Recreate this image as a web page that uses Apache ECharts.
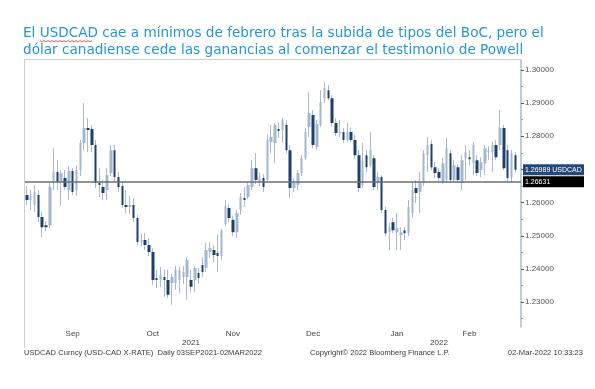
<!DOCTYPE html>
<html><head><meta charset="utf-8">
<script src="https://cdn.jsdelivr.net/npm/echarts@6/dist/echarts.min.js"></script>
<style>html,body{margin:0;padding:0;background:#fff}#c{width:595px;height:389px}</style>
</head><body><div id="c"></div>
<script>
// ---------- DATA ----------
const titleLines = [
  'El USDCAD cae a mínimos de febrero tras la subida de tipos del BoC, pero el',
  'dólar canadiense cede las ganancias al comenzar el testimonio de Powell'
];
const footerLeft = 'USDCAD Curncy (USD-CAD X-RATE)  Daily 03SEP2021-02MAR2022';
const footerMid = 'Copyright\u00A9 2022 Bloomberg Finance L.P.';
const footerRight = '02-Mar-2022 10:33:23';

const dates = [
 '2021-09-03','2021-09-06','2021-09-07','2021-09-08','2021-09-09','2021-09-10','2021-09-13','2021-09-14','2021-09-15','2021-09-16','2021-09-17','2021-09-20','2021-09-21','2021-09-22','2021-09-23','2021-09-24','2021-09-27','2021-09-28','2021-09-29','2021-09-30',
 '2021-10-01','2021-10-04','2021-10-05','2021-10-06','2021-10-07','2021-10-08','2021-10-11','2021-10-12','2021-10-13','2021-10-14','2021-10-15','2021-10-18','2021-10-19','2021-10-20','2021-10-21','2021-10-22','2021-10-25','2021-10-26','2021-10-27','2021-10-28','2021-10-29',
 '2021-11-01','2021-11-02','2021-11-03','2021-11-04','2021-11-05','2021-11-08','2021-11-09','2021-11-10','2021-11-11','2021-11-12','2021-11-15','2021-11-16','2021-11-17','2021-11-18','2021-11-19','2021-11-22','2021-11-23','2021-11-24','2021-11-25','2021-11-26','2021-11-29','2021-11-30',
 '2021-12-01','2021-12-02','2021-12-03','2021-12-06','2021-12-07','2021-12-08','2021-12-09','2021-12-10','2021-12-13','2021-12-14','2021-12-15','2021-12-16','2021-12-17','2021-12-20','2021-12-21','2021-12-22','2021-12-23','2021-12-24','2021-12-27','2021-12-28','2021-12-29','2021-12-30','2021-12-31',
 '2022-01-03','2022-01-04','2022-01-05','2022-01-06','2022-01-07','2022-01-10','2022-01-11','2022-01-12','2022-01-13','2022-01-14','2022-01-17','2022-01-18','2022-01-19','2022-01-20','2022-01-21','2022-01-24','2022-01-25','2022-01-26','2022-01-27','2022-01-28','2022-01-31',
 '2022-02-01','2022-02-02','2022-02-03','2022-02-04','2022-02-07','2022-02-08','2022-02-09','2022-02-10','2022-02-11','2022-02-14','2022-02-15','2022-02-16','2022-02-17','2022-02-18','2022-02-21','2022-02-22','2022-02-23','2022-02-24','2022-02-25','2022-02-28',
 '2022-03-01','2022-03-02'
];

const opens = [
 1.2623,1.2608,1.2593,1.2623,1.2557,1.2532,1.2532,1.2662,1.2692,1.2662,
 1.2674,1.2638,1.2695,1.2638,1.2698,1.2780,1.2825,1.2822,1.2774,1.2659,
 1.2647,1.2638,1.2689,1.2758,1.2677,1.2650,1.2593,1.2587,1.2593,1.2554,
 1.2481,1.2487,1.2472,1.2451,1.2373,1.2367,1.2376,1.2367,1.2358,1.2358,
 1.2367,1.2376,1.2376,1.2367,1.2367,1.2388,1.2412,1.2403,1.2451,1.2457,
 1.2448,1.2439,1.2535,1.2584,1.2548,1.2511,1.2578,1.2614,1.2617,1.2647,
 1.2704,1.2662,1.2674,1.2668,1.2783,1.2780,1.2822,1.2819,1.2834,1.2758,
 1.2644,1.2653,1.2689,1.2734,1.2828,1.2864,1.2768,1.2834,1.2915,1.2939,
 1.2915,1.2840,1.2810,1.2813,1.2789,1.2813,1.2789,1.2743,1.2653,1.2743,
 1.2713,1.2734,1.2659,1.2677,1.2578,1.2511,1.2541,1.2511,1.2502,1.2517,
 1.2508,1.2569,1.2644,1.2632,1.2659,1.2743,1.2777,1.2707,1.2692,1.2662,
 1.2668,1.2749,1.2668,1.2707,1.2659,1.2734,1.2737,1.2719,1.2728,1.2698,
 1.2719,1.2752,1.2752,1.2774,1.2774,1.2825,1.2758,1.2674,1.2743
];
const closes = [
 1.2608,1.2620,1.2632,1.2557,1.2526,1.2526,1.2647,1.2692,1.2662,1.2689,
 1.2647,1.2695,1.2632,1.2698,1.2780,1.2825,1.2819,1.2774,1.2659,1.2653,
 1.2629,1.2683,1.2758,1.2677,1.2647,1.2593,1.2587,1.2593,1.2554,1.2481,
 1.2487,1.2472,1.2451,1.2367,1.2367,1.2382,1.2367,1.2322,1.2376,1.2397,
 1.2397,1.2391,1.2427,1.2346,1.2403,1.2373,1.2391,1.2457,1.2463,1.2442,
 1.2439,1.2517,1.2590,1.2554,1.2511,1.2569,1.2617,1.2608,1.2653,1.2704,
 1.2668,1.2677,1.2647,1.2789,1.2798,1.2834,1.2816,1.2849,1.2758,1.2644,
 1.2659,1.2689,1.2734,1.2813,1.2870,1.2774,1.2837,1.2903,1.2945,1.2915,
 1.2840,1.2810,1.2813,1.2789,1.2813,1.2789,1.2743,1.2644,1.2728,1.2707,
 1.2758,1.2647,1.2677,1.2578,1.2508,1.2526,1.2517,1.2523,1.2511,1.2508,
 1.2587,1.2638,1.2629,1.2659,1.2749,1.2774,1.2707,1.2689,1.2674,1.2719,
 1.2764,1.2668,1.2713,1.2668,1.2728,1.2752,1.2731,1.2774,1.2689,1.2722,
 1.2764,1.2758,1.2774,1.2737,1.2825,1.2704,1.2674,1.2749,1.26989
];
const lows = [
 1.2593,1.2578,1.2572,1.2541,1.2496,1.2514,1.2523,1.2638,1.2638,1.2590,
 1.2638,1.2608,1.2623,1.2620,1.2680,1.2758,1.2752,1.2752,1.2644,1.2617,
 1.2608,1.2608,1.2680,1.2662,1.2632,1.2584,1.2569,1.2566,1.2541,1.2472,
 1.2469,1.2457,1.2439,1.2352,1.2343,1.2346,1.2316,1.2313,1.2292,1.2337,
 1.2328,1.2355,1.2307,1.2331,1.2331,1.2355,1.2376,1.2391,1.2433,1.2421,
 1.2391,1.2427,1.2529,1.2541,1.2499,1.2493,1.2563,1.2587,1.2611,1.2638,
 1.2656,1.2650,1.2632,1.2662,1.2749,1.2719,1.2795,1.2780,1.2749,1.2614,
 1.2632,1.2638,1.2680,1.2728,1.2798,1.2764,1.2759,1.2828,1.2900,1.2909,
 1.2831,1.2801,1.2798,1.2780,1.2783,1.2783,1.2734,1.2632,1.2644,1.2692,
 1.2707,1.2638,1.2638,1.2569,1.2499,1.2457,1.2508,1.2457,1.2457,1.2487,
 1.2499,1.2554,1.2599,1.2569,1.2650,1.2692,1.2698,1.2674,1.2665,1.2656,
 1.2662,1.2662,1.2662,1.2659,1.2638,1.2668,1.2713,1.2683,1.2680,1.2677,
 1.2683,1.2728,1.2692,1.2728,1.2758,1.2698,1.2662,1.2662,1.2692
];
const highs = [
 1.2650,1.2638,1.2653,1.2638,1.2572,1.2544,1.2659,1.2764,1.2728,1.2698,
 1.2698,1.2710,1.2704,1.2713,1.2789,1.2900,1.2855,1.2834,1.2789,1.2704,
 1.2668,1.2704,1.2774,1.2774,1.2692,1.2662,1.2638,1.2620,1.2614,1.2563,
 1.2505,1.2508,1.2493,1.2463,1.2397,1.2406,1.2397,1.2397,1.2385,1.2409,
 1.2406,1.2409,1.2433,1.2397,1.2409,1.2403,1.2436,1.2478,1.2481,1.2472,
 1.2502,1.2520,1.2608,1.2596,1.2560,1.2578,1.2629,1.2647,1.2662,1.2728,
 1.2749,1.2692,1.2686,1.2804,1.2834,1.2840,1.2843,1.2855,1.2849,1.2774,
 1.2674,1.2698,1.2743,1.2825,1.2933,1.2879,1.2849,1.2939,1.2963,1.2954,
 1.2924,1.2855,1.2849,1.2825,1.2840,1.2825,1.2804,1.2758,1.2780,1.2758,
 1.2813,1.2743,1.2692,1.2683,1.2587,1.2538,1.2554,1.2569,1.2526,1.2526,
 1.2608,1.2662,1.2668,1.2692,1.2758,1.2798,1.2789,1.2722,1.2704,1.2734,
 1.2795,1.2758,1.2728,1.2716,1.2743,1.2774,1.2758,1.2783,1.2743,1.2737,
 1.2774,1.2770,1.2783,1.2789,1.2879,1.2834,1.2774,1.2758,1.2752
];

const yTickValues = [1.23,1.24,1.25,1.26,1.27,1.28,1.29,1.30];
const yMinorValues = [1.225,1.235,1.245,1.255,1.265,1.275,1.285,1.295];
const yMin = 1.2225, yMax = 1.3030;
const monthLabels = {'2021-09-21':'Sep','2021-10-20':'Oct','2021-11-18':'Nov','2021-12-17':'Dec','2022-01-18':'Jan','2022-02-14':'Feb'};
const yearLabels = {'2021-11-03':'2021','2022-02-02':'2022'};
const refLevel = 1.26631;
const seriesName = 'USDCAD';

// ---------- CHART ----------
const FONT = '"Liberation Sans", Arial, sans-serif';
const TFONT = '"DejaVu Sans", Verdana, sans-serif';
const lastPrice = closes[closes.length - 1];
const candleData = dates.map((d, i) => [opens[i], closes[i], lows[i], highs[i]]);

const DARK = '#1d416f', LIGHT = '#a3b8ce', WICK = '#a9bacb';
const smallText = {fontFamily: FONT, fontSize: 7.6, color: '#3a3a3a', fontWeight: 'normal'};

// spell-check squiggle decoration under "USDCAD" in the title
const squiggle = [];
for (let x = 40; x <= 92; x += 2) squiggle.push([x, (x / 2) % 2 === 0 ? 40.5 : 42]);

const boxLabel = (text, bg) => ({
  show: true, position: 'end', distance: 2, formatter: text,
  backgroundColor: bg, color: '#fff', fontFamily: FONT, fontSize: 7, padding: [2, 2], width: 57
});

const chart = echarts.init(document.getElementById('c'));
chart.setOption({
  animation: false,
  backgroundColor: '#fff',
  title: [
    {text: titleLines.join('\n'), left: 23, top: 25, padding: 0,
     textStyle: {fontFamily: TFONT, fontSize: 13.6, fontWeight: 'normal', color: '#2299d4', lineHeight: 17}},
    {text: footerLeft, left: 24, top: 349, padding: 0, textStyle: smallText},
    {text: footerMid, left: 310, top: 349, padding: 0, textStyle: smallText},
    {text: footerRight, right: 12, top: 349, padding: 0, textStyle: smallText}
  ],
  grid: {left: 25, right: 74, top: 60, bottom: 62},
  xAxis: [
    {type: 'category', data: dates, max: dates.length, boundaryGap: true,
     axisLine: {show: false}, axisTick: {show: false}, splitLine: {show: false},
     axisLabel: {interval: (i, v) => monthLabels[v] !== undefined, formatter: v => monthLabels[v] || '',
       fontFamily: FONT, fontSize: 8, color: '#444', margin: 3}},
    {type: 'category', data: dates, max: dates.length, boundaryGap: true, position: 'bottom', offset: 9,
     axisLine: {show: false}, axisTick: {show: false}, splitLine: {show: false},
     axisLabel: {interval: (i, v) => yearLabels[v] !== undefined, formatter: v => yearLabels[v] || '',
       fontFamily: FONT, fontSize: 8, color: '#444', margin: 3}}
  ],
  yAxis: [
    {type: 'value', position: 'right', min: yMin, max: yMax, scale: true,
     axisLine: {show: true, lineStyle: {color: '#a9bccf', width: 1.5}},
     axisTick: {show: true, length: 3, customValues: yTickValues, lineStyle: {color: '#555', width: 1}},
     axisLabel: {customValues: yTickValues, formatter: v => v.toFixed(5), fontFamily: FONT, fontSize: 8, color: '#555', margin: 4},
     splitLine: {show: false}},
    {type: 'value', position: 'right', min: yMin, max: yMax, scale: true,
     axisLine: {show: false},
     axisTick: {show: true, length: 2, customValues: yMinorValues, lineStyle: {color: '#999', width: 1}},
     axisLabel: {show: false}, splitLine: {show: false}}
  ],
  graphic: [
    {type: 'line', shape: {x1: 24.5, y1: 59.5, x2: 24.5, y2: 348}, style: {stroke: '#cfcfcf', lineWidth: 1}, silent: true},
    {type: 'line', shape: {x1: 24, y1: 59.5, x2: 521, y2: 59.5}, style: {stroke: '#cfcfcf', lineWidth: 1}, silent: true},
    {type: 'polyline', shape: {points: squiggle}, style: {stroke: '#d9322b', lineWidth: 0.8, fill: null}, silent: true}
  ],
  series: [
    {name: 'wick', type: 'candlestick', data: candleData, barWidth: 1,
     itemStyle: {color: WICK, color0: WICK, borderWidth: 1, borderColor: WICK, borderColor0: WICK}, silent: true, z: 2},
    {name: seriesName, type: 'candlestick', data: candleData, barWidth: 3,
     itemStyle: {color: LIGHT, color0: DARK, borderWidth: 0, borderColor: LIGHT, borderColor0: DARK}, z: 3,
     markLine: {
       symbol: 'none', silent: true, animation: false, precision: 5,
       data: [
         {yAxis: refLevel, lineStyle: {color: '#6e6e6e', width: 1.5, type: 'solid'},
          label: boxLabel(refLevel.toFixed(5), '#000')},
         {yAxis: lastPrice, lineStyle: {color: 'rgba(0,0,0,0)', width: 0},
          label: boxLabel(lastPrice.toFixed(5) + ' ' + seriesName, '#22497a')}
       ]
     }}
  ]
});
</script>
</body></html>
